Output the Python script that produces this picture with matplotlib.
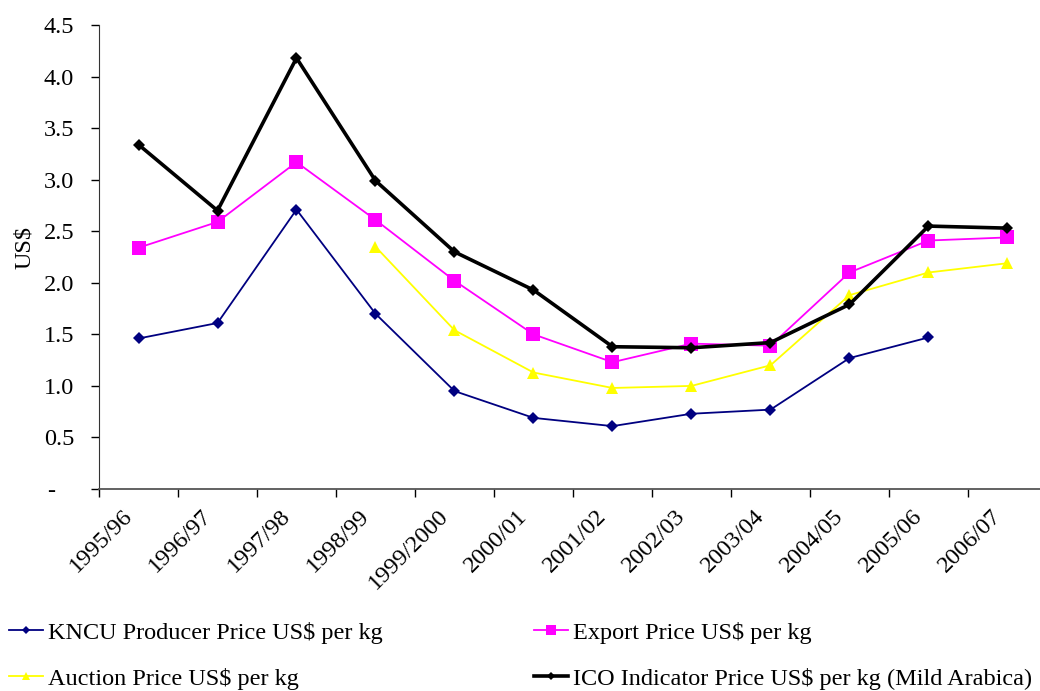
import matplotlib.pyplot as plt
from matplotlib.ticker import FixedLocator, FixedFormatter
from matplotlib.transforms import ScaledTranslation

plt.rcParams['font.family'] = ['Liberation Serif', 'DejaVu Serif']

seasons = ['1995/96', '1996/97', '1997/98', '1998/99', '1999/2000', '2000/01',
           '2001/02', '2002/03', '2003/04', '2004/05', '2005/06', '2006/07']

# US$ per kg, None where no price was reported
kncu_price = [1.46, 1.61, 2.71, 1.70, 0.95, 0.69, 0.61, 0.73, 0.77, 1.27, 1.47, None]
export_price = [2.34, 2.59, 3.17, 2.61, 2.02, 1.50, 1.23, 1.41, 1.39, 2.10, 2.41, 2.44]
auction_price = [None, None, None, 2.35, 1.54, 1.13, 0.98, 1.00, 1.20, 1.88, 2.10, 2.19]
ico_price = [3.34, 2.70, 4.18, 2.99, 2.30, 1.93, 1.38, 1.37, 1.42, 1.79, 2.55, 2.53]

y_ticks = [0, 0.5, 1.0, 1.5, 2.0, 2.5, 3.0, 3.5, 4.0, 4.5]
y_labels = ['-   ', '0.5', '1.0', '1.5', '2.0', '2.5', '3.0', '3.5', '4.0', '4.5']

FS = 17.5


def points(values):
    xs = [i + 0.5 for i, v in enumerate(values) if v is not None]
    ys = [v for v in values if v is not None]
    return xs, ys


fig = plt.figure(figsize=(10.4, 6.91), dpi=100)
ax = fig.add_axes([0.0952, 0.2923, 0.9115, 0.6715])

series = [
    (kncu_price, 'KNCU Producer Price US$ per kg', '#000080', 'D', 6, 1.3),
    (export_price, 'Export Price US$ per kg', '#FF00FF', 's', 9.5, 1.3),
    (auction_price, 'Auction Price US$ per kg', '#FFFF00', '^', 9, 1.3),
    (ico_price, 'ICO Indicator Price US$ per kg (Mild Arabica)', '#000000', 'D', 6.5, 2.6),
]
handles = {}
for values, name, color, marker, msize, lw in series:
    xs, ys = points(values)
    line, = ax.plot(xs, ys, color=color, marker=marker, markersize=msize,
                    linewidth=lw, label=name, markeredgewidth=0)
    handles[name] = line

ax.set_xlim(0, len(seasons))
ax.set_ylim(0, 4.5)

# category ticks sit between seasons, labels at season centres
ax.xaxis.set_major_locator(FixedLocator(range(len(seasons) + 1)))
ax.xaxis.set_major_formatter(FixedFormatter([''] * (len(seasons) + 1)))
ax.xaxis.set_minor_locator(FixedLocator([i + 0.5 for i in range(len(seasons))]))
ax.xaxis.set_minor_formatter(FixedFormatter(seasons))
ax.tick_params(axis='x', which='minor', length=0, pad=12, labelsize=FS)
ax.tick_params(axis='x', which='major', length=6, width=1, direction='out')
shift = ScaledTranslation(-17 / 100, 0, fig.dpi_scale_trans)
for lbl in ax.get_xticklabels(minor=True):
    lbl.set_rotation(45)
    lbl.set_ha('right')
    lbl.set_rotation_mode('anchor')
    lbl.set_transform(lbl.get_transform() + shift)

ax.set_yticks(y_ticks)
ax.set_yticklabels(y_labels)
ax.tick_params(axis='y', length=6, width=1, direction='out', labelsize=FS, pad=12)
ax.set_ylabel('US$', fontsize=FS)
ax.yaxis.set_label_coords(-0.068, 0.52)

for side in ['top', 'right']:
    ax.spines[side].set_visible(False)
ax.spines['left'].set_color('#333333')
ax.spines['bottom'].set_color('#555555')
ax.spines['bottom'].set_linewidth(1.3)

order = ['KNCU Producer Price US$ per kg', 'Auction Price US$ per kg',
         'Export Price US$ per kg', 'ICO Indicator Price US$ per kg (Mild Arabica)']
fig.legend([handles[n] for n in order], order, loc='lower left', ncol=2,
           bbox_to_anchor=(-0.012, -0.03), frameon=False, fontsize=FS,
           handlelength=1.4, handletextpad=0.2, columnspacing=6.2,
           labelspacing=1.0, markerscale=0.7)

fig.savefig('out.png', dpi=100)
